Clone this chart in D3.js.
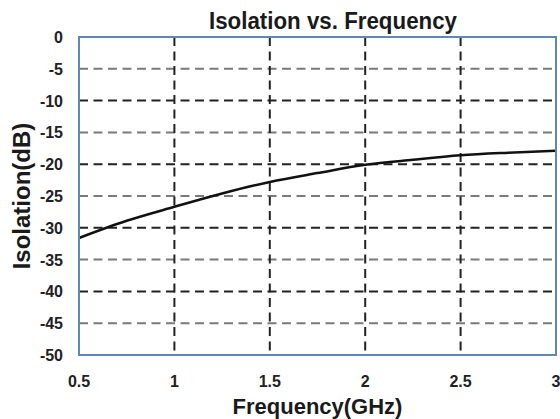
<!DOCTYPE html>
<html lang="en">
<head>
    <meta charset="UTF-8" />
    <title>Isolation vs. Frequency</title>
    <script src="https://d3js.org/d3.v7.min.js"></script>
    <style>
        body { margin: 0; background: #fff; }
        text { font-family: "Liberation Sans", Arial, sans-serif; font-weight: bold; }
    </style>
</head>
<body>
    <script>
        // data
        var freq = [0.5, 0.75, 1, 1.25, 1.5, 1.75, 2, 2.25, 2.5, 2.75, 3];
        var isolation = [-31.6, -28.9, -26.7, -24.6, -22.8, -21.4, -20.1, -19.3, -18.6, -18.2, -17.9];
        var xTicks = [0.5, 1, 1.5, 2, 2.5, 3];
        var yTicks = [0, -5, -10, -15, -20, -25, -30, -35, -40, -45, -50];

        var w = 560, h = 419;
        var plotLeft = 79, plotRight = 556, plotTop = 37, plotBottom = 355;

        var svg = d3.select("body").append("svg")
            .attr("width", w)
            .attr("height", h);

        var xScale = d3.scaleLinear().domain([0.5, 3]).range([plotLeft, plotRight]);
        var yScale = d3.scaleLinear().domain([-50, 0]).range([plotBottom, plotTop]);

        // horizontal grid
        svg.append("g").selectAll("line")
            .data(yTicks.filter(function (d) { return d !== 0 && d !== -50; }))
            .enter().append("line")
            .attr("x1", plotLeft).attr("x2", plotRight)
            .attr("y1", function (d) { return yScale(d); })
            .attr("y2", function (d) { return yScale(d); })
            .attr("stroke", function (d) { return d % 10 === 0 ? "#222" : "#7a7a7a"; })
            .attr("stroke-width", 2)
            .attr("stroke-dasharray", "9,5.5");

        // vertical grid
        svg.append("g").selectAll("line")
            .data(xTicks.filter(function (d) { return d !== 0.5 && d !== 3; }))
            .enter().append("line")
            .attr("y1", plotTop).attr("y2", plotBottom)
            .attr("x1", function (d) { return xScale(d); })
            .attr("x2", function (d) { return xScale(d); })
            .attr("stroke", "#222")
            .attr("stroke-width", 2)
            .attr("stroke-dasharray", "9,5.5");

        // curve
        svg.append("path")
            .datum(freq)
            .attr("fill", "none")
            .attr("stroke", "#111")
            .attr("stroke-width", 2.5)
            .attr("d", d3.line()
                .curve(d3.curveMonotoneX)
                .x(function (d) { return xScale(d); })
                .y(function (d, i) { return yScale(isolation[i]); }));

        // frame
        svg.append("rect")
            .attr("x", plotLeft).attr("y", plotTop)
            .attr("width", plotRight - plotLeft).attr("height", plotBottom - plotTop)
            .attr("fill", "none")
            .attr("stroke", "#5f87b9")
            .attr("stroke-width", 2);

        // y tick labels
        svg.append("g").selectAll("text")
            .data(yTicks)
            .enter().append("text")
            .attr("x", 63)
            .attr("y", function (d) { return yScale(d) + 6; })
            .attr("text-anchor", "end")
            .attr("font-size", 16)
            .attr("fill", "#222")
            .text(function (d) { return d; });

        // x tick labels
        svg.append("g").selectAll("text")
            .data(xTicks)
            .enter().append("text")
            .attr("x", function (d) { return xScale(d); })
            .attr("y", 387)
            .attr("text-anchor", "middle")
            .attr("font-size", 16)
            .attr("fill", "#222")
            .text(function (d) { return d; });

        // title
        svg.append("text")
            .attr("x", 333)
            .attr("y", 29)
            .attr("text-anchor", "middle")
            .attr("font-size", 23)
            .attr("fill", "#1a1a1a")
            .attr("textLength", 248)
            .attr("lengthAdjust", "spacingAndGlyphs")
            .text("Isolation vs. Frequency");

        // axis titles
        svg.append("text")
            .attr("x", (plotLeft + plotRight) / 2)
            .attr("y", 414)
            .attr("text-anchor", "middle")
            .attr("font-size", 22)
            .attr("fill", "#1a1a1a")
            .text("Frequency(GHz)");

        svg.append("text")
            .attr("transform", "rotate(-90)")
            .attr("x", -(plotTop + plotBottom) / 2)
            .attr("y", 30)
            .attr("text-anchor", "middle")
            .attr("font-size", 24)
            .attr("fill", "#1a1a1a")
            .text("Isolation(dB)");
    </script>
</body>
</html>
